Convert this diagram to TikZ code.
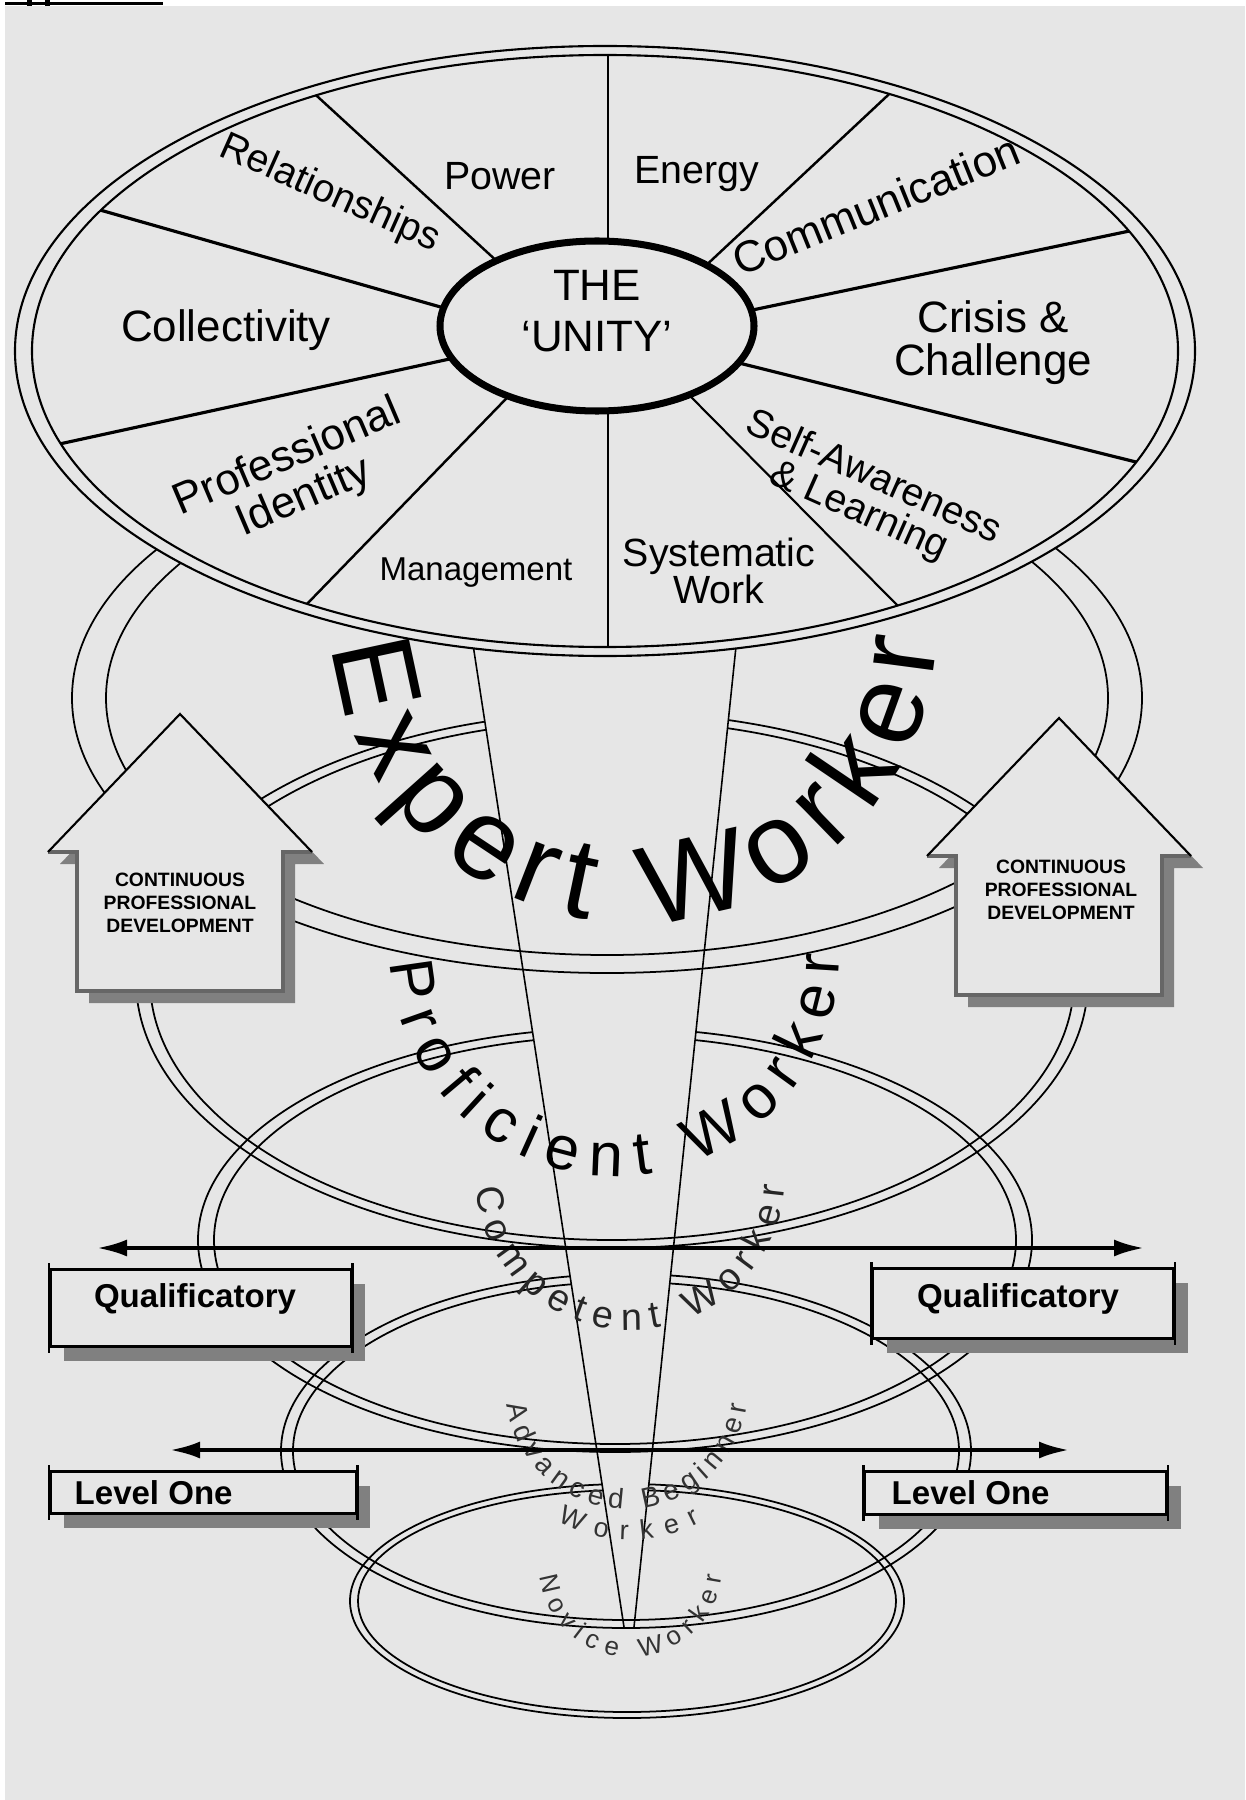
\documentclass[tikz,border=0pt]{standalone}
\usepackage{fontspec}
\setmainfont{Liberation Sans}
\usetikzlibrary{arrows.meta,calc,decorations.text,shapes.geometric,shadows}

\definecolor{paper}{RGB}{230,230,230}
\definecolor{shade}{RGB}{128,128,128}

% centre x / centre y / outer radii / inner radii of the level rings
\newcommand{\ringlist}{607/698/535/275/501/257, 612/980/476/268/462/260,
  615/1240/417/212/401/204, 626/1451/345/177/333/169, 627/1601/277/117/269/111}

\begin{document}
\begin{tikzpicture}[x=0.1mm, y=0.1mm,
    rim/.style={line width=0.6pt},
    ring/.style={line width=0.5pt},
    coneline/.style={line width=0.45pt},
    biglabel/.style={font=\fontsize{12.5}{12.3}\selectfont, align=center},
    midlabel/.style={font=\fontsize{11.2}{10.5}\selectfont, align=center},
    smalllabel/.style={font=\fontsize{9.4}{10}\selectfont},
    cpdarrow/.style={fill=paper,
      drop shadow={shadow xshift=1.2mm, shadow yshift=-1.2mm, fill=shade, opacity=1}},
    cpdedge/.style={line width=0.6pt},
    cpdshaft/.style={draw=black!60, line width=1.2pt},
    cpdtext/.style={font=\bfseries\fontsize{5.5}{6.5}\selectfont, align=center},
    spanarrow/.style={{Latex[length=3mm,width=1.7mm]}-{Latex[length=3mm,width=1.7mm]}, line width=1.1pt},
    levelbox/.style={draw, line width=0.85pt, fill=paper, inner sep=0pt, anchor=north west,
      drop shadow={shadow xshift=1.4mm, shadow yshift=-1.4mm, fill=shade, opacity=1}},
    boxtick/.style={line width=0.85pt},
    boxlabel/.style={font=\bfseries\fontsize{9.4}{10}\selectfont}
  ]
  \useasboundingbox (0,0) rectangle (1245,-1800);
  \fill[white] (0,0) rectangle (1245,-1800);
  \fill[paper] (5,-6) rectangle (1245,-1800);
  \fill (5,-2) rectangle (163,-5);
  \fill (27,0) rectangle (32,-6);
  \fill (45,0) rectangle (50,-6);

  % rings, back halves
  \foreach \cx/\cy/\rx/\ry/\ix/\iy in \ringlist {
    \draw[ring] (\cx+\rx,-\cy) arc[start angle=0, end angle=180, x radius=\rx, y radius=\ry];
    \draw[ring] (\cx+\ix,-\cy) arc[start angle=0, end angle=180, x radius=\ix, y radius=\iy];
  }

  % cone
  \coordinate (coneNW) at (460,-560);
  \coordinate (coneNE) at (745,-560);
  \coordinate (coneSW) at (624,-1627);
  \coordinate (coneSE) at (634,-1627);
  \fill[paper] (coneNW) -- (coneSW) -- (coneSE) -- (coneNE) -- cycle;

  % rings, front halves
  \foreach \cx/\cy/\rx/\ry/\ix/\iy in \ringlist {
    \draw[ring] (\cx-\rx,-\cy) arc[start angle=180, end angle=360, x radius=\rx, y radius=\ry];
    \draw[ring] (\cx-\ix,-\cy) arc[start angle=180, end angle=360, x radius=\ix, y radius=\iy];
  }
  \draw[coneline] (coneNW) -- (coneSW);
  \draw[coneline] (coneNE) -- (coneSE);

  % the wheel
  \fill[paper] (605,-351) ellipse[x radius=590, y radius=305];
  \draw[rim] (605,-351) ellipse[x radius=590, y radius=305];
  \draw[rim] (605,-351) ellipse[x radius=573, y radius=296];
  \begin{scope}
    \clip (605,-351) ellipse[x radius=573, y radius=296];
    \foreach \px/\py/\qx/\qy/\w in {608/237/608/55/0.6pt, 488/253/318/97/0.7pt,
        437/306/107/212/0.9pt, 445/360/64/443/0.9pt, 500/405/306/605/0.7pt,
        608/419/608/647/0.6pt, 699/405/897/605/0.6pt, 751/366/1132/461/0.9pt,
        762/308/1120/233/0.9pt, 715/257/886/97/0.7pt}
      \draw[line width=\w] ($(\qx,-\qy)!1.15!(\px,-\py)$) -- ($(\px,-\py)!1.1!(\qx,-\qy)$);
  \end{scope}
  \node[draw, ellipse, line width=2pt, fill=paper, minimum width=31.4mm, minimum height=17mm] (unity) at (597,-326) {};
  \node[font=\fontsize{12.5}{14.5}\selectfont, align=center] (unitylabel) at (597,-311) {THE\\‘UNITY’};

  \node[midlabel] (power) at (500,-176) {Power};
  \node[midlabel] (energy) at (697,-174) {Energy};
  \node[midlabel, rotate=-24] (relationships) at (330,-194) {Relationships};
  \node[biglabel, rotate=22] (communication) at (876,-205) {Communication};
  \node[biglabel] (collectivity) at (226,-330) {Collectivity};
  \node[biglabel] (crisis) at (993,-343) {Crisis \&\\Challenge};
  \node[biglabel, rotate=23] (identity) at (296,-478) {Professional\\Identity};
  \node[smalllabel] (management) at (476,-573) {Management};
  \node[midlabel] (systematic) at (719,-571) {Systematic\\Work};
  \node[midlabel, rotate=-24] (selfaware) at (866,-495) {Self-Awareness\\\& Learning};

  % level names
  \path[decorate, decoration={text along path, text align={fit to path}, text color=black,
      text={|\fontsize{32.5}{33}\selectfont|Expert Worker}}]
    (635,-620) ++(185:303) arc[start angle=185, end angle=356, radius=303];
  \path[decorate, decoration={text along path, text align={fit to path}, text color=black,
      text={|\fontsize{17.5}{18}\selectfont|Proficient Worker}}]
    (615,-951) ++(183:225) arc[start angle=183, end angle=359, radius=225];
  \path[decorate, decoration={text along path, text align={fit to path}, text color=black!85,
      text={|\fontsize{10.8}{11}\selectfont|Competent Worker}}]
    (630,-1175) ++(185:155) arc[start angle=185, end angle=356, radius=155];
  \path[decorate, decoration={text along path, text align={fit to path}, text color=black!80,
      text={|\fontsize{8}{8}\selectfont|Advanced Beginner}}]
    (627,-1388) ++(188:121) arc[start angle=188, end angle=352, radius=121];
  \path[decorate, decoration={text along path, text align={fit to path}, text color=black!80,
      text={|\fontsize{7.7}{8}\selectfont|Worker}}]
    (630,-1390) ++(241:150) arc[start angle=241, end angle=298, radius=150];
  \path[decorate, decoration={text along path, text align={fit to path}, text color=black!80,
      text={|\fontsize{7.4}{8}\selectfont|Novice Worker}}]
    (631,-1565) ++(187:92) arc[start angle=187, end angle=353, radius=92];

  % continuous professional development arrows
  \foreach \ax/\ay in {180/714, 1059/718}{
    \fill[cpdarrow] (\ax,-\ay) -- ++(132,-138) -- ++(-29,0) -- ++(0,-139) -- ++(-206,0)
      -- ++(0,139) -- ++(-29,0) -- cycle;
    \draw[cpdshaft] (\ax+132,-\ay-138) -- ++(-29,0) -- ++(0,-139) -- ++(-206,0)
      -- ++(0,139) -- ++(-29,0);
    \draw[cpdedge] (\ax-132,-\ay-138) -- (\ax,-\ay) -- (\ax+132,-\ay-138);
  }
  \node[cpdtext] (cpdleft) at (180,-903) {CONTINUOUS\\PROFESSIONAL\\DEVELOPMENT};
  \node[cpdtext] (cpdright) at (1061,-890) {CONTINUOUS\\PROFESSIONAL\\DEVELOPMENT};

  % qualificatory
  \coordinate (qualW) at (97,-1248);
  \coordinate (qualE) at (1144,-1248);
  \draw[spanarrow] (qualW) -- (qualE);
  \node[levelbox, minimum width=30.1mm, minimum height=7.7mm] (qualboxL) at (49,-1268) {};
  \node[levelbox, minimum width=30.1mm, minimum height=7mm] (qualboxR) at (871,-1267) {};
  \node[boxlabel] (qualtextL) at (195,-1299) {Qualificatory};
  \node[boxlabel] (qualtextR) at (1018,-1299) {Qualificatory};

  % level one
  \coordinate (levW) at (170,-1450);
  \coordinate (levE) at (1069,-1450);
  \draw[spanarrow] (levW) -- (levE);
  \node[levelbox, minimum width=30.6mm, minimum height=4.2mm] (levboxL) at (49,-1470) {};
  \node[levelbox, minimum width=30.2mm, minimum height=4.3mm] (levboxR) at (863,-1470) {};
  \node[boxlabel, anchor=west, inner sep=0pt] (levtextL) at (74,-1493) {Level One};
  \node[boxlabel, anchor=west, inner sep=0pt] (levtextR) at (891,-1493) {Level One};

  % end ticks of the box sides
  \foreach \b in {qualboxL, qualboxR, levboxL, levboxR}{
    \draw[boxtick] ([yshift=0.5mm]\b.north west) -- ([yshift=-0.5mm]\b.south west);
    \draw[boxtick] ([yshift=0.5mm]\b.north east) -- ([yshift=-0.5mm]\b.south east);
  }
\end{tikzpicture}
\end{document}
